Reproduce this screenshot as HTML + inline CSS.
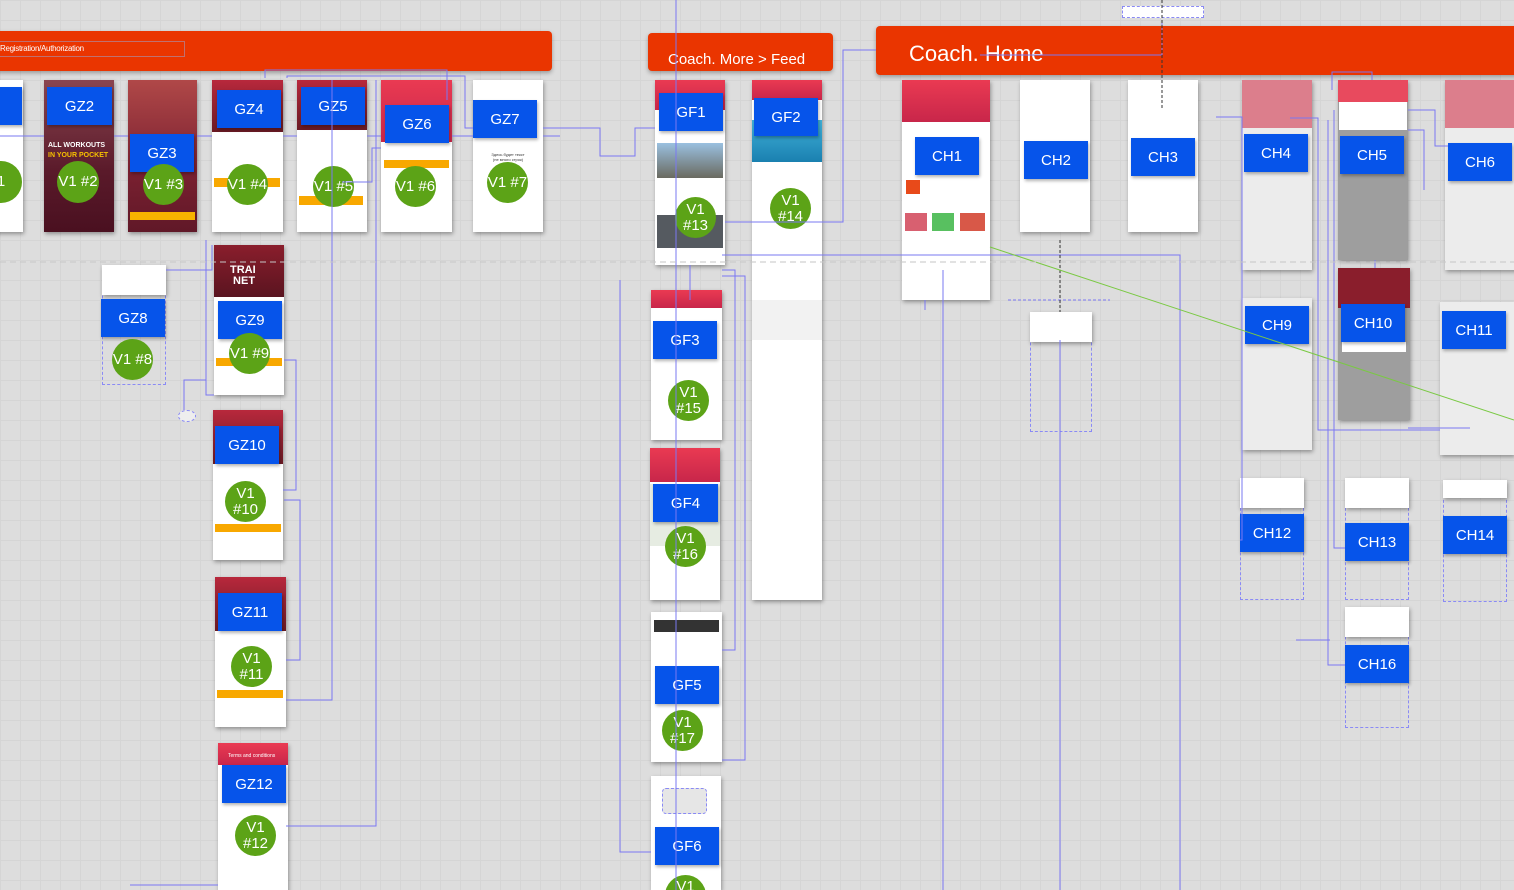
<!DOCTYPE html>
<html style="overflow:hidden;width:1514px;height:890px"><head><meta charset="utf-8"><style>
html,body{margin:0;width:1514px;height:890px;overflow:hidden}
body{position:relative;font-family:"Liberation Sans",sans-serif;
background-color:#dddddd;
background-image:linear-gradient(#d5d5d5 1px,transparent 1px),linear-gradient(90deg,#d5d5d5 1px,transparent 1px);
background-size:20px 20px;}
.a{position:absolute;box-sizing:border-box}
.ban{background:#ea3500;border-radius:4px;box-shadow:0 2px 4px rgba(0,0,0,.3);color:#fff}
.s{background:#fff;box-shadow:1px 2px 4px rgba(0,0,0,.35)}
.h{background:linear-gradient(#ea3a52,#c8264a)}
.l{background:#0654ea;color:#fff;font-size:15px;display:flex;align-items:center;justify-content:center;box-shadow:1px 2px 3px rgba(0,0,0,.3)}
.c{background:#5ca317;color:#fff;font-size:15px;border-radius:50%;display:flex;align-items:center;justify-content:center;text-align:center;line-height:16px}
.d{border:1.5px dashed #8a8af5}
.gry{background:#ececec}
svg{position:absolute;left:0;top:0}
</style></head><body>
<div class="a ban" style="left:-5px;top:31px;width:557px;height:40px"><div class="a" style="left:5px;top:13px;font-size:8px;letter-spacing:-.3px">Registration/Authorization</div><div class="a" style="left:0;top:10px;width:190px;height:16px;border:1px solid #c07070;border-left:0"></div></div>
<div class="a ban" style="left:648px;top:33px;width:185px;height:38px"><div class="a" style="left:20px;top:18px;font-size:15px">Coach. More &gt; Feed</div></div>
<div class="a ban" style="left:876px;top:26px;width:650px;height:49px"><div class="a" style="left:33px;top:15px;font-size:22px">Coach. Home</div></div>

<div class="a s" style="left:-10px;top:80px;width:33px;height:152px"></div>
<div class="a s" style="left:44px;top:80px;width:70px;height:152px;background:linear-gradient(#8a4550,#5a1a2a 60%,#4a1020)"></div>
<div class="a" style="left:48px;top:142px;font-size:7px;color:#fff;font-weight:bold">ALL WORKOUTS</div><div class="a" style="left:48px;top:152px;font-size:7px;color:#f5c000;font-weight:bold">IN YOUR POCKET</div>
<div class="a s" style="left:128px;top:80px;width:69px;height:152px;background:linear-gradient(#b04848,#7a2030 60%,#601828)"></div>
<div class="a" style="left:130px;top:212px;width:65px;height:8px;background:#f8b400"></div>
<div class="a s" style="left:212px;top:80px;width:71px;height:152px"></div><div class="a h" style="left:212px;top:80px;width:71px;height:52px;background:linear-gradient(#b8283c,#6a1a24)"></div>
<div class="a" style="left:214px;top:178px;width:66px;height:9px;background:#f8a800"></div>
<div class="a s" style="left:297px;top:80px;width:70px;height:152px"></div><div class="a" style="left:297px;top:80px;width:70px;height:50px;background:linear-gradient(#b8283c,#6a1a24)"></div>
<div class="a" style="left:299px;top:196px;width:64px;height:9px;background:#f8a800"></div>
<div class="a s" style="left:381px;top:80px;width:71px;height:152px"></div><div class="a h" style="left:381px;top:80px;width:71px;height:62px"></div>
<div class="a" style="left:384px;top:160px;width:65px;height:8px;background:#f8a800"></div>
<div class="a s" style="left:473px;top:80px;width:70px;height:152px"></div>
<div class="a" style="left:473px;top:152px;width:70px;font-size:4px;text-align:center;color:#333">Здесь будет текст<br>(не много строк)</div>

<div class="a l" style="left:-5px;top:87px;width:27px;height:38px"></div>
<div class="a l" style="left:47px;top:87px;width:65px;height:38px">GZ2</div>
<div class="a l" style="left:130px;top:134px;width:64px;height:38px">GZ3</div>
<div class="a l" style="left:217px;top:90px;width:64px;height:38px">GZ4</div>
<div class="a l" style="left:301px;top:87px;width:64px;height:38px">GZ5</div>
<div class="a l" style="left:385px;top:105px;width:64px;height:38px">GZ6</div>
<div class="a l" style="left:473px;top:100px;width:64px;height:38px">GZ7</div>
<div class="a c" style="left:-20px;top:161px;width:42px;height:42px">1</div>
<div class="a c" style="left:57px;top:161px;width:42px;height:42px">V1 #2</div>
<div class="a c" style="left:143px;top:164px;width:41px;height:41px">V1 #3</div>
<div class="a c" style="left:227px;top:164px;width:41px;height:41px">V1 #4</div>
<div class="a c" style="left:313px;top:166px;width:41px;height:41px">V1 #5</div>
<div class="a c" style="left:395px;top:166px;width:41px;height:41px">V1 #6</div>
<div class="a c" style="left:487px;top:162px;width:41px;height:41px">V1 #7</div>

<div class="a d" style="left:102px;top:265px;width:64px;height:120px"></div><div class="a s" style="left:102px;top:265px;width:64px;height:30px"></div>
<div class="a l" style="left:101px;top:299px;width:64px;height:38px">GZ8</div>
<div class="a c" style="left:112px;top:339px;width:41px;height:41px">V1 #8</div>
<div class="a s" style="left:214px;top:245px;width:70px;height:150px"></div><div class="a" style="left:214px;top:245px;width:70px;height:52px;background:linear-gradient(#8a1e2c,#5a1420)"></div>
<div class="a" style="left:230px;top:265px;font-size:11px;color:#fff;font-weight:bold;line-height:11px">TRAI<br>&nbsp;NET</div>
<div class="a" style="left:216px;top:358px;width:66px;height:8px;background:#f8a800"></div>
<div class="a l" style="left:218px;top:301px;width:64px;height:38px">GZ9</div>
<div class="a c" style="left:229px;top:333px;width:41px;height:41px">V1 #9</div>
<div class="a s" style="left:213px;top:410px;width:70px;height:150px"></div><div class="a" style="left:213px;top:410px;width:70px;height:54px;background:linear-gradient(#b8283c,#6a1a24)"></div>
<div class="a" style="left:215px;top:524px;width:66px;height:8px;background:#f8a800"></div>
<div class="a l" style="left:215px;top:426px;width:64px;height:38px">GZ10</div>
<div class="a c" style="left:225px;top:481px;width:41px;height:41px">V1<br>#10</div>
<div class="a s" style="left:215px;top:577px;width:71px;height:150px"></div><div class="a" style="left:215px;top:577px;width:71px;height:54px;background:linear-gradient(#b8283c,#6a1a24)"></div>
<div class="a" style="left:217px;top:690px;width:66px;height:8px;background:#f8a800"></div>
<div class="a l" style="left:218px;top:593px;width:64px;height:38px">GZ11</div>
<div class="a c" style="left:231px;top:646px;width:41px;height:41px">V1<br>#11</div>
<div class="a s" style="left:218px;top:743px;width:70px;height:150px"></div><div class="a h" style="left:218px;top:743px;width:70px;height:22px"><div class="a" style="left:10px;top:10px;font-size:5px;color:#fff">Terms and conditions</div></div>
<div class="a l" style="left:222px;top:765px;width:64px;height:38px">GZ12</div>
<div class="a c" style="left:235px;top:815px;width:41px;height:41px">V1<br>#12</div>
<div class="a d" style="left:178px;top:410px;width:18px;height:12px;border-radius:50%;background:#eee"></div>

<div class="a s" style="left:655px;top:80px;width:70px;height:185px"></div><div class="a h" style="left:655px;top:80px;width:70px;height:30px"></div>
<div class="a" style="left:657px;top:143px;width:66px;height:35px;background:linear-gradient(#9ac0e0,#6a6a60)"></div>
<div class="a" style="left:657px;top:215px;width:66px;height:33px;background:#555a60"></div>
<div class="a l" style="left:659px;top:93px;width:64px;height:38px">GF1</div>
<div class="a c" style="left:675px;top:197px;width:41px;height:41px">V1<br>#13</div>
<div class="a s" style="left:752px;top:80px;width:70px;height:520px"></div><div class="a h" style="left:752px;top:80px;width:70px;height:20px"></div>
<div class="a" style="left:752px;top:120px;width:70px;height:42px;background:linear-gradient(#40b0d8,#1a80b0)"></div>
<div class="a" style="left:752px;top:300px;width:70px;height:40px;background:#f2f2f2"></div>
<div class="a l" style="left:754px;top:98px;width:64px;height:38px">GF2</div>
<div class="a c" style="left:770px;top:188px;width:41px;height:41px">V1<br>#14</div>
<div class="a s" style="left:651px;top:290px;width:71px;height:150px"></div><div class="a h" style="left:651px;top:290px;width:71px;height:18px"></div>
<div class="a l" style="left:653px;top:321px;width:64px;height:38px">GF3</div>
<div class="a c" style="left:668px;top:380px;width:41px;height:41px">V1<br>#15</div>
<div class="a s" style="left:650px;top:448px;width:70px;height:152px"></div><div class="a h" style="left:650px;top:448px;width:70px;height:34px"></div>
<div class="a" style="left:650px;top:484px;width:70px;height:62px;background:#e6ece2"></div>
<div class="a l" style="left:653px;top:484px;width:65px;height:38px">GF4</div>
<div class="a c" style="left:665px;top:526px;width:41px;height:41px">V1<br>#16</div>
<div class="a s" style="left:651px;top:612px;width:71px;height:150px"></div><div class="a" style="left:654px;top:620px;width:65px;height:12px;background:#333"></div>
<div class="a l" style="left:655px;top:666px;width:64px;height:38px">GF5</div>
<div class="a c" style="left:662px;top:710px;width:41px;height:41px">V1<br>#17</div>
<div class="a s" style="left:651px;top:776px;width:70px;height:114px"></div>
<div class="a d" style="left:662px;top:788px;width:45px;height:26px;background:#e6e6e6;border-radius:4px"></div>
<div class="a l" style="left:655px;top:827px;width:64px;height:38px">GF6</div>
<div class="a c" style="left:665px;top:875px;width:41px;height:41px;align-items:flex-start;padding-top:4px">V1</div>

<div class="a s" style="left:902px;top:80px;width:88px;height:220px"></div><div class="a h" style="left:902px;top:80px;width:88px;height:42px"></div>
<div class="a" style="left:905px;top:213px;width:22px;height:18px;background:#d86070"></div><div class="a" style="left:932px;top:213px;width:22px;height:18px;background:#58c060"></div><div class="a" style="left:960px;top:213px;width:25px;height:18px;background:#d85848"></div>
<div class="a" style="left:906px;top:180px;width:14px;height:14px;background:#e84a1a"></div>
<div class="a l" style="left:915px;top:137px;width:64px;height:38px">CH1</div>
<div class="a s" style="left:1020px;top:80px;width:70px;height:152px"></div>
<div class="a l" style="left:1024px;top:141px;width:64px;height:38px">CH2</div>
<div class="a s" style="left:1128px;top:80px;width:70px;height:152px"></div>
<div class="a l" style="left:1131px;top:138px;width:64px;height:38px">CH3</div>
<div class="a s gry" style="left:1242px;top:80px;width:70px;height:190px"></div><div class="a" style="left:1242px;top:80px;width:70px;height:48px;background:#dc7e8c"></div>
<div class="a l" style="left:1244px;top:134px;width:64px;height:38px">CH4</div>
<div class="a s" style="left:1338px;top:80px;width:70px;height:180px;background:#9e9e9e"></div><div class="a" style="left:1338px;top:80px;width:70px;height:22px;background:#e84a5e"></div><div class="a" style="left:1339px;top:102px;width:68px;height:28px;background:#fff"></div>
<div class="a l" style="left:1340px;top:136px;width:64px;height:38px">CH5</div>
<div class="a s gry" style="left:1445px;top:80px;width:75px;height:190px"></div><div class="a" style="left:1445px;top:80px;width:75px;height:48px;background:#dc7e8c"></div>
<div class="a l" style="left:1448px;top:143px;width:64px;height:38px">CH6</div>
<div class="a s gry" style="left:1242px;top:298px;width:70px;height:152px"></div>
<div class="a l" style="left:1245px;top:306px;width:64px;height:38px">CH9</div>
<div class="a s" style="left:1338px;top:268px;width:72px;height:152px;background:#9e9e9e"></div><div class="a" style="left:1338px;top:268px;width:72px;height:40px;background:#8a1e2c"></div><div class="a" style="left:1342px;top:342px;width:64px;height:10px;background:#fff"></div>
<div class="a l" style="left:1341px;top:304px;width:64px;height:38px">CH10</div>
<div class="a s gry" style="left:1440px;top:302px;width:74px;height:153px"></div>
<div class="a l" style="left:1442px;top:311px;width:64px;height:38px">CH11</div>
<div class="a d" style="left:1240px;top:478px;width:64px;height:122px"></div><div class="a s" style="left:1240px;top:478px;width:64px;height:30px"></div>
<div class="a l" style="left:1240px;top:514px;width:64px;height:38px">CH12</div>
<div class="a d" style="left:1345px;top:478px;width:64px;height:122px"></div><div class="a s" style="left:1345px;top:478px;width:64px;height:30px"></div>
<div class="a l" style="left:1345px;top:523px;width:64px;height:38px">CH13</div>
<div class="a d" style="left:1443px;top:480px;width:64px;height:122px"></div><div class="a s" style="left:1443px;top:480px;width:64px;height:18px"></div>
<div class="a l" style="left:1443px;top:516px;width:64px;height:38px">CH14</div>
<div class="a d" style="left:1345px;top:607px;width:64px;height:121px"></div><div class="a s" style="left:1345px;top:607px;width:64px;height:30px"></div>
<div class="a l" style="left:1345px;top:645px;width:64px;height:38px">CH16</div>
<div class="a d" style="left:1030px;top:312px;width:62px;height:120px"></div><div class="a s" style="left:1030px;top:312px;width:62px;height:30px"></div>
<div class="a d" style="left:1122px;top:6px;width:82px;height:12px;background:#fff"></div>

<svg width="1514" height="890" fill="none" stroke="#7a78f2" stroke-width="1">
<path d="M0 136H44M114 136H128M197 136H212M283 136H297M367 136H381M452 136H473M543 136H560"/>
<path d="M265 78V70H447V100M287 78V76H465V128H473M342 182H372V148H381"/>
<path d="M166 270H212V245M206 240V395H214M206 380H184V410M284 360H296V490H283M284 500H300V660H286M286 700H332V80M286 826H376V80M218 885H130"/>
<path d="M543 128H600V156H635V128H655M676 0V890M722 255H1180V890M690 265V300M722 270H735V650H722M722 276H745V760H722M620 280V852H651M725 222H843V50H876"/>
<path d="M943 270V890M1060 340V890M980 55H1162V20M1216 117H1242V540H1240M1290 118H1318V430H1440M1328 120V665H1345M1332 90V72H1372V80M1408 110H1435V146H1448M1408 130H1424V190M1334 110V548H1345M1375 260V268M1408 428H1470"/>
<path d="M1296 640H1330M925 300V310" />
<path d="M1008 300H1110" stroke-dasharray="3 2"/>
<path d="M1060 240V312" stroke="#333" stroke-dasharray="3 2"/>
<path d="M1162 0V110" stroke="#333" stroke-dasharray="3 2"/>
<path d="M990 247L1514 420" stroke="#7ac943"/>
<path d="M0 262H1514" stroke="#c6c6c6" stroke-dasharray="6 4"/>
</svg>
</body></html>
